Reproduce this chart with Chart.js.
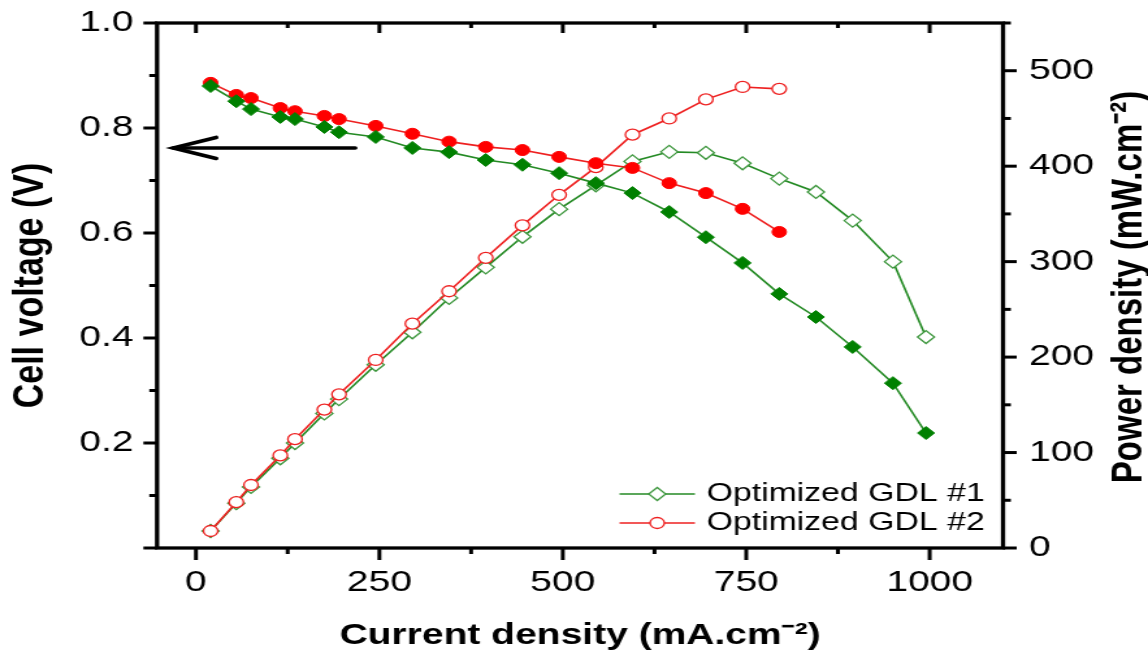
<!DOCTYPE html>
<html><head><meta charset="utf-8">
<script src="https://cdn.jsdelivr.net/npm/chart.js"></script>
<style>
html,body{margin:0;padding:0;background:#fff;overflow:hidden}
canvas{display:block}
</style>
</head><body>
<canvas id="c" width="883" height="658" style="width:1148px;height:658px"></canvas>
<script>
// ---------------- data ----------------
const currentDensity1 = [20, 55, 75, 115, 135, 175, 195, 245, 295, 345, 395, 445, 495, 545, 595, 645, 695, 745, 795, 845, 895, 950, 995];
const voltage1 = [0.880, 0.851, 0.836, 0.821, 0.817, 0.802, 0.792, 0.783, 0.762, 0.754, 0.739, 0.730, 0.714, 0.695, 0.676, 0.640, 0.592, 0.543, 0.484, 0.440, 0.383, 0.314, 0.219];
const power1 = [17.8, 47, 64, 94, 110, 141, 156, 192, 226, 262, 294, 326, 355, 380, 405, 415, 414, 403, 387, 373, 343, 300, 221];

const currentDensity2 = [20, 55, 75, 115, 135, 175, 195, 245, 295, 345, 395, 445, 495, 545, 595, 645, 695, 745, 795];
const voltage2 = [0.886, 0.863, 0.857, 0.838, 0.832, 0.823, 0.817, 0.804, 0.789, 0.774, 0.764, 0.758, 0.745, 0.733, 0.724, 0.695, 0.676, 0.646, 0.602];
const power2 = [17.8, 48, 66, 97, 114, 145, 161, 197, 235, 269, 304, 338, 370, 399, 433, 450, 470, 483, 481];

const seriesLabels = ['Optimized GDL #1', 'Optimized GDL #2'];
const xTitle = 'Current density (mA.cm\u207B\u00B2)';
const yLeftTitle = 'Cell voltage (V)';
const yRightTitle = 'Power density (mW.cm\u207B\u00B2)';
// arrow annotation (data coordinates: current density, cell voltage)
const arrowFrom = [217, 0.762];
const arrowTo = [-31, 0.762];

// ---------------- styling ----------------
const FONT = '"Liberation Sans", Arial, Helvetica, sans-serif';
Chart.defaults.font.family = FONT;
Chart.defaults.color = '#000';

const GREEN = '#008000', GREEN_LINE = '#248a24', GREEN_HOLLOW = '#3c963c';
const RED = '#ff0000', RED_LINE = '#ee2020';
const TICK_FONT_SIZE = 30;

const pts = (xs, ys) => xs.map((v, i) => ({x: v, y: ys[i]}));

const datasets = [
  { label: seriesLabels[0] + ' V', data: pts(currentDensity1, voltage1), yAxisID: 'yV',
    borderColor: GREEN_LINE, borderWidth: 1.6, pointStyle: 'rectRot', pointRadius: 6.5,
    pointBackgroundColor: GREEN, pointBorderColor: GREEN, pointBorderWidth: 1 },
  { label: seriesLabels[1] + ' V', data: pts(currentDensity2, voltage2), yAxisID: 'yV',
    borderColor: RED_LINE, borderWidth: 1.6, pointStyle: 'circle', pointRadius: 5.5,
    pointBackgroundColor: RED, pointBorderColor: RED, pointBorderWidth: 1 },
  { label: seriesLabels[1], data: pts(currentDensity2, power2), yAxisID: 'yP',
    borderColor: RED_LINE, borderWidth: 1.6, pointStyle: 'circle', pointRadius: 5.5,
    pointBackgroundColor: '#ffffff', pointBorderColor: RED_LINE, pointBorderWidth: 1.3 },
  { label: seriesLabels[0], data: pts(currentDensity1, power1), yAxisID: 'yP',
    borderColor: GREEN_LINE, borderWidth: 1.6, pointStyle: 'rectRot', pointRadius: 6.5,
    pointBackgroundColor: '#ffffff', pointBorderColor: GREEN_HOLLOW, pointBorderWidth: 1.3 }
];

function minorValues(scale) {
  const t = scale.ticks.map(k => k.value);
  const out = [];
  if (t.length < 2) return out;
  const step = t[1] - t[0];
  for (let v = t[0] - step / 2; v <= scale.max + 1e-9; v += step) {
    if (v >= scale.min - 1e-9) out.push(v);
  }
  return out;
}

const axisFrame = {
  id: 'axisFrame',
  afterDraw(chart) {
    const {ctx, chartArea: a, scales} = chart;
    const x = scales.x, yV = scales.yV, yP = scales.yP;
    ctx.save();
    ctx.strokeStyle = '#000';
    ctx.lineCap = 'butt';
    ctx.lineWidth = 3;
    const seg = (x1, y1, x2, y2) => { ctx.beginPath(); ctx.moveTo(x1, y1); ctx.lineTo(x2, y2); ctx.stroke(); };
    // x axis: outward at bottom, inward at top
    x.ticks.forEach(t => { const p = x.getPixelForValue(t.value); seg(p, a.bottom, p, a.bottom + 12); seg(p, a.top, p, a.top + 10); });
    minorValues(x).forEach(v => { const p = x.getPixelForValue(v); seg(p, a.bottom, p, a.bottom + 6); seg(p, a.top, p, a.top + 5); });
    // left axis outward
    yV.ticks.forEach(t => { const p = yV.getPixelForValue(t.value); seg(a.left - 10.5, p, a.left, p); });
    minorValues(yV).forEach(v => { const p = yV.getPixelForValue(v); seg(a.left - 6, p, a.left, p); });
    // right axis outward
    yP.ticks.forEach(t => { const p = yP.getPixelForValue(t.value); seg(a.right, p, a.right + 10.5, p); });
    minorValues(yP).forEach(v => { const p = yP.getPixelForValue(v); seg(a.right, p, a.right + 6, p); });
    // frame
    ctx.lineWidth = 3.3;
    ctx.strokeRect(a.left, a.top, a.right - a.left, a.bottom - a.top);

    // y tick labels (values from the library's scales)
    ctx.fillStyle = '#000';
    ctx.font = TICK_FONT_SIZE + 'px ' + FONT;
    ctx.textBaseline = 'middle';
    ctx.textAlign = 'right';
    yV.ticks.forEach(t => {
      if (Math.abs(t.value) < 1e-9) return;
      ctx.fillText(t.value.toFixed(1), a.left - 18, yV.getPixelForValue(t.value));
    });
    ctx.textAlign = 'left';
    yP.ticks.forEach(t => {
      ctx.fillText(String(Math.round(t.value)), a.right + 20, yP.getPixelForValue(t.value));
    });

    // right axis title (reads bottom to top)
    ctx.save();
    ctx.translate(chart.width - 14.5, (a.top + a.bottom) / 2 + 1.5);
    ctx.rotate(-Math.PI / 2);
    ctx.font = 'bold 33px ' + FONT;
    ctx.textAlign = 'center';
    ctx.textBaseline = 'middle';
    ctx.fillText(yRightTitle, 0, 0);
    ctx.restore();

    // arrow annotation
    const ax1 = x.getPixelForValue(arrowFrom[0]), ay1 = yV.getPixelForValue(arrowFrom[1]);
    const ax2 = x.getPixelForValue(arrowTo[0]), ay2 = yV.getPixelForValue(arrowTo[1]);
    ctx.strokeStyle = '#000';
    ctx.lineWidth = 3.6;
    ctx.lineCap = 'round';
    seg(ax1, ay1, ax2, ay2);
    ctx.beginPath();
    ctx.moveTo(ax2 + 33, ay2 - 10.5);
    ctx.lineTo(ax2, ay2);
    ctx.lineTo(ax2 + 33, ay2 + 10.5);
    ctx.stroke();

    // legend (power series)
    const items = [chart.data.datasets[3], chart.data.datasets[2]];
    const rowsY = [a.bottom - 54, a.bottom - 25];
    const lx1 = a.right - 295, lx2 = a.right - 237, tx = a.right - 228;
    items.forEach((d, i) => {
      const y = rowsY[i];
      ctx.lineCap = 'butt';
      ctx.strokeStyle = d.borderColor;
      ctx.lineWidth = d.borderWidth;
      seg(lx1, y, lx2, y);
      ctx.fillStyle = d.pointBackgroundColor;
      ctx.strokeStyle = d.pointBorderColor;
      ctx.lineWidth = d.pointBorderWidth;
      Chart.helpers.drawPoint(ctx, {pointStyle: d.pointStyle, radius: d.pointRadius, borderWidth: d.pointBorderWidth, rotation: 0}, (lx1 + lx2) / 2, y);
      ctx.fillStyle = '#000';
      ctx.font = '26px ' + FONT;
      ctx.textAlign = 'left';
      ctx.textBaseline = 'middle';
      ctx.fillText(seriesLabels[i], tx, y);
    });
    ctx.restore();
  }
};

new Chart(document.getElementById('c'), {
  type: 'line',
  data: {datasets},
  options: {
    responsive: false,
    devicePixelRatio: 1,
    animation: false,
    events: [],
    layout: {padding: {top: 23, left: 0, right: 0, bottom: 0}},
    elements: {line: {tension: 0}},
    plugins: {legend: {display: false}, tooltip: {enabled: false}},
    scales: {
      x: {
        type: 'linear', position: 'bottom', min: -53, max: 1100,
        grid: {display: false, drawTicks: false}, border: {display: false},
        ticks: {stepSize: 250, includeBounds: false, font: {size: TICK_FONT_SIZE, family: FONT}, color: '#000', padding: 17,
                maxRotation: 0, autoSkip: false, callback: v => String(v)},
        title: {display: true, text: xTitle, color: '#000', font: {size: 30, weight: 'bold', family: FONT, lineHeight: 1.2}, padding: {top: 0, bottom: 4}},
        afterFit(s) { s.height = 110; }
      },
      yV: {
        type: 'linear', position: 'left', min: 0, max: 1.0,
        grid: {display: false, drawTicks: false}, border: {display: false},
        ticks: {display: false, stepSize: 0.2, includeBounds: false},
        title: {display: true, text: yLeftTitle, color: '#000', font: {size: 34, weight: 'bold', family: FONT, lineHeight: 1.2}, padding: {top: 3, bottom: 0}},
        afterFit(s) { s.width = 120.8; }
      },
      yP: {
        type: 'linear', position: 'right', min: 0, max: 550,
        grid: {display: false, drawTicks: false}, border: {display: false},
        ticks: {display: false, stepSize: 100, includeBounds: false},
        afterFit(s) { s.width = 111.5; }
      }
    }
  },
  plugins: [axisFrame]
});
</script>
</body></html>
